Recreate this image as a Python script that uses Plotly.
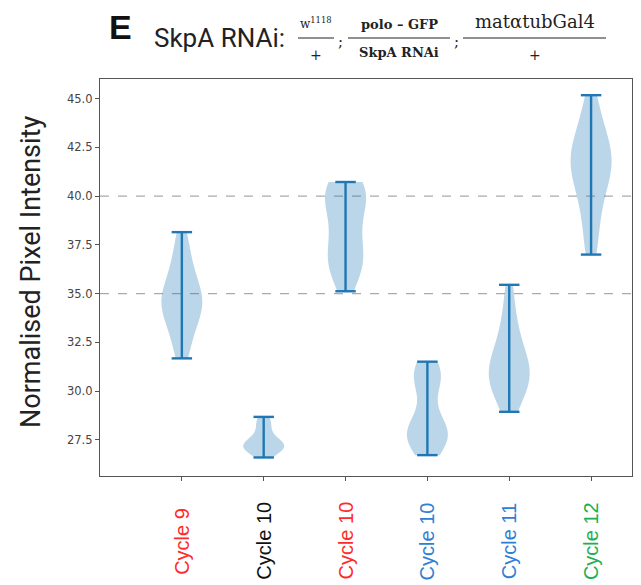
import numpy as np
import plotly.graph_objects as go

# ---------------- data ----------------
positions = [1, 2, 3, 4, 5, 6]
cycle_labels = ["Cycle 9", "Cycle 10", "Cycle 10", "Cycle 10", "Cycle 11", "Cycle 12"]
label_colors = ["#ff2a2a", "#111111", "#ff2a2a", "#2f80d4", "#2f80d4", "#20b050"]

cycle9_red = [31.68, 32.3, 32.9, 33.4, 33.8, 34.1, 34.3, 34.5, 34.65, 34.8, 35.0,
              35.3, 35.7, 36.2, 36.7, 37.3, 38.15]
cycle10_black = [26.6, 26.85, 26.95, 27.05, 27.1, 27.15, 27.2, 27.25, 27.3, 27.4,
                 27.5, 27.7, 28.0, 28.3, 28.5, 28.68]
cycle10_red = [35.12, 35.9, 36.2, 36.4, 36.6, 36.8, 37.1, 37.5, 37.9, 38.3, 38.7,
               39.1, 39.5, 39.8, 40.05, 40.25, 40.4, 40.5, 40.6, 40.72]
cycle10_blue = [26.72, 27.1, 27.3, 27.45, 27.55, 27.65, 27.75, 27.85, 27.95, 28.1,
                28.25, 28.45, 28.8, 30.1, 30.4, 30.6, 30.75, 30.9, 31.05, 31.25, 31.51]
cycle11_blue = [28.94, 29.5, 29.9, 30.2, 30.4, 30.6, 30.8, 31.0, 31.2, 31.45, 31.7,
                32.0, 32.4, 32.9, 33.5, 34.3, 35.45]
cycle12_green = [37.0, 37.7, 38.5, 39.3, 39.9, 40.4, 40.8, 41.1, 41.4, 41.6, 41.8,
                 42.0, 42.2, 42.5, 42.8, 43.2, 43.7, 44.3, 45.17]

series = [cycle9_red, cycle10_black, cycle10_red, cycle10_blue, cycle11_blue, cycle12_green]

y_ticks = [27.5, 30.0, 32.5, 35.0, 37.5, 40.0, 42.5, 45.0]
reference_lines = [35.0, 40.0]

# ---------------- figure ----------------
W, H = 641, 585
ML, MR, MT, MB = 100, 9, 79, 109
PW, PH = W - ML - MR, H - MT - MB

def px_x(px):
    return (px - ML) / PW

def px_y(py):
    return (H - MB - py) / PH

C0 = "#1f77b4"
fig = go.Figure()

for pos, vals in zip(positions, series):
    arr = np.asarray(vals, dtype=float)
    bw = arr.std(ddof=1) * len(arr) ** (-1 / 5)  # Scott's rule (matplotlib default)
    fig.add_trace(go.Violin(
        x=[pos] * len(arr), y=arr, width=0.5, spanmode="hard", bandwidth=bw,
        points=False, scalemode="width", fillcolor="rgba(31,119,180,0.3)",
        line=dict(width=0, color="rgba(0,0,0,0)"), showlegend=False, hoverinfo="skip",
    ))
    lo, hi = arr.min(), arr.max()
    cap = 0.125
    fig.add_trace(go.Scatter(
        x=[pos, pos, None, pos - cap, pos + cap, None, pos - cap, pos + cap],
        y=[lo, hi, None, lo, lo, None, hi, hi],
        mode="lines", line=dict(color=C0, width=2.4), showlegend=False, hoverinfo="skip",
    ))

for yv in reference_lines:
    fig.add_shape(type="line", xref="paper", x0=0, x1=1, yref="y", y0=yv, y1=yv,
                  line=dict(color="#aaaaaa", width=1.3, dash="dash"), layer="below")

annotations = []

def note(x, y, text, size, family, color="#222222", angle=0, xanchor="center", xref="paper"):
    annotations.append(dict(x=x, xref=xref, y=y, yref="paper", text=text, textangle=angle,
                            showarrow=False, xanchor=xanchor, yanchor="middle",
                            font=dict(family=family, size=size, color=color)))

for pos, lab, col in zip(positions, cycle_labels, label_colors):
    note(pos, px_y(541), lab, 20, "Liberation Sans", col, angle=-90, xref="x")

note(px_x(31), px_y(272), "Normalised Pixel Intensity", 27, "Roboto", "#222222", angle=-90)

note(px_x(120), px_y(27), "<b>E</b>", 34, "Liberation Sans", "#111111")
note(px_x(152), px_y(38), "SkpA RNAi:", 26, "Roboto", "#222222", xanchor="left")

serif = "DejaVu Serif"
frac_parts = [
    (316, "w<sup>1118</sup>", 23, 12, "+", 55, 14, 298, 334),
    (399, "<b>polo – GFP</b>", 25, 13, "<b>SkpA RNAi</b>", 52, 13, 348, 450),
    (535, "matαtubGal4", 21, 18, "+", 55, 14, 463, 606),
]
for cx, num, ny, nsize, den, dy, dsize, lx0, lx1 in frac_parts:
    note(px_x(cx), px_y(ny), num, nsize, serif)
    note(px_x(cx), px_y(dy), den, dsize, serif)
    fig.add_shape(type="line", xref="paper", yref="paper", x0=px_x(lx0), x1=px_x(lx1),
                  y0=px_y(38), y1=px_y(38), line=dict(color="#222222", width=1.2))
for sx in (340, 456):
    note(px_x(sx), px_y(42), ";", 15, serif)

fig.update_layout(
    width=W, height=H, margin=dict(l=ML, r=MR, t=MT, b=MB),
    paper_bgcolor="white", plot_bgcolor="white",
    annotations=annotations, violinmode="overlay",
    xaxis=dict(range=[0, 6.5], tickvals=positions, showticklabels=False,
               ticks="outside", ticklen=4, tickcolor="#555555", showline=True, mirror=True,
               linecolor="#555555", linewidth=1.3, showgrid=False, zeroline=False),
    yaxis=dict(range=[25.65, 46.0], tickvals=y_ticks, tickformat=".1f",
               ticks="outside", ticklen=4, tickcolor="#555555", showline=True, mirror=True,
               linecolor="#555555", linewidth=1.3, showgrid=False, zeroline=False,
               tickfont=dict(family="DejaVu Sans", size=11.5, color="#444444")),
)

fig.write_html("out.html")
